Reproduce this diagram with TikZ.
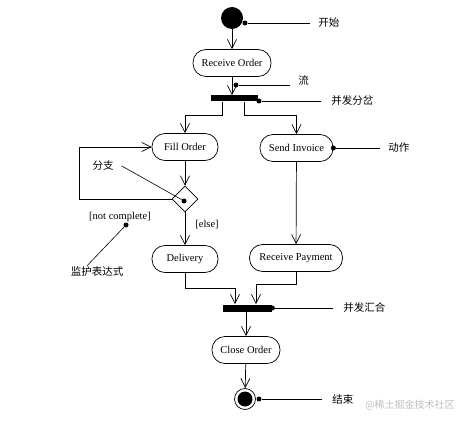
\documentclass[tikz,border=0pt]{standalone}
\usepackage{fontspec}
\setmainfont{Liberation Serif}
\newfontfamily\cjk{Noto Sans CJK SC}
\usetikzlibrary{arrows.meta,shapes.geometric}

\begin{document}
\begin{tikzpicture}[x=1pt,y=-1pt,
  font=\fontsize{10.5}{12}\selectfont,
  line width=0.7pt,
  act/.style={rectangle,rounded corners=13pt,draw,minimum height=27pt,inner sep=0pt},
  bar/.style={rectangle,fill=black,inner sep=0pt,minimum height=6pt},
  decision/.style={diamond,draw,minimum size=26pt,inner sep=0pt},
  initial/.style={circle,fill=black,minimum size=22pt,inner sep=0pt},
  final/.style={circle,draw,minimum size=21pt,inner sep=0pt,
                path picture={\fill (path picture bounding box.center) circle (7.5pt);}},
  flow/.style={-{Straight Barb[length=9pt,width=9pt]}},
  note/.style={line width=0.6pt},
  pin/.style={circle,fill=black,inner sep=0pt,minimum size=5pt},
  tag/.style={font=\cjk\fontsize{10.5}{12}\selectfont,inner xsep=8pt,inner ysep=1pt}
]
\useasboundingbox (0,0) rectangle (465,422);

% ===================== activities =====================
% start -> receive -> fork
\node[initial] (start) at (232,18) {};
\node[act,minimum width=78pt] (recv) at (232,63) {Receive Order};
\node[bar,minimum width=47pt] (fork) at (234.5,98.5) {};
% two parallel branches
\node[act,minimum width=66pt] (fill) at (185,147) {Fill Order};
\node[act,minimum width=73pt] (send) at (296.5,148) {Send Invoice};
\node[decision] (branch) at (185,199) {};
\node[act,minimum width=66pt] (deliv) at (185,259) {Delivery};
\node[act,minimum width=93pt] (pay) at (296,258) {Receive Payment};
% join -> close -> end
\node[bar,minimum width=49pt,minimum height=7pt] (join) at (247.5,308) {};
\node[act,minimum width=68pt] (close) at (246,350) {Close Order};
\node[final] (stop) at (245,399) {};

% guards
\node (guard) at (120,217) {[not complete]};
\node (other) at (207,225) {[else]};

% ===================== flows =====================
\draw[flow] (start) -- (recv);
\draw[flow] (recv.south) -- (recv.south |- fork.north);
\draw[flow] ([xshift=-12.5pt]fork.south) -- ++(0,14) -| (fill.north);
\draw[flow] ([xshift=10pt]fork.south) -- ++(0,14) -| (send.north);
\draw[flow] (fill) -- (branch);
% loop back while not complete
\draw[flow] (branch.west) -- ++(-92,0) |- (fill.west);
\draw[flow] (branch) -- (deliv);
\draw[flow] (send) -- (pay);
\draw[flow] (deliv.south) -- ++(0,15) -| ([xshift=-12.5pt]join.north);
\draw[flow] (pay.south) -- ++(0,12) -| ([xshift=8.5pt]join.north);
\draw[flow] (close.north |- join.south) -- (close.north);
\draw[flow] (close) -- (stop);

% ===================== annotations =====================
% start
\node[pin] (p1) at (245,23) {};
\node[tag,anchor=west] (t1) at (310,23) {开始};
\draw[note] (p1) -- (t1.west);
% flow
\node[pin] (p2) at (236,85) {};
\node[tag,anchor=west] (t2) at (290,80) {流};
\draw[note] (p2) -- (p2 -| t2.west);
% fork
\node[pin] (p3) at (259,101) {};
\node[tag,anchor=west,inner xsep=10pt] (t3) at (321,101) {并发分岔};
\draw[note] (p3) -- (t3.west);
% action
\node[pin] (p4) at (send.east) {};
\node[tag,anchor=west] (t4) at (380,148) {动作};
\draw[note] (p4) -- (t4.west);
% branch
\node[pin] (p5) at (184,201) {};
\node[tag] (t5) at (103,166) {分支};
\draw[note] (t5.east) -- (p5);
% guard expression
\node[pin] (p6) at (126,225) {};
\node[tag] (t6) at (97,272) {监护表达式};
\draw[note] (p6) -- ([xshift=-10pt]t6.north);
% join
\node[pin] (p7) at (join.east) {};
\node[tag,anchor=west,inner xsep=10pt] (t7) at (333,308) {并发汇合};
\draw[note] (p7) -- (t7.west);
% end
\node[pin] (p8) at (259,399) {};
\node[tag,anchor=west,inner xsep=10pt] (t8) at (322,399) {结束};
\draw[note] (p8) -- (t8.west);

% watermark
\node[font=\cjk\fontsize{10}{12}\selectfont,text=gray!50] (mark) at (410,405) {@稀土掘金技术社区};

\end{tikzpicture}
\end{document}
